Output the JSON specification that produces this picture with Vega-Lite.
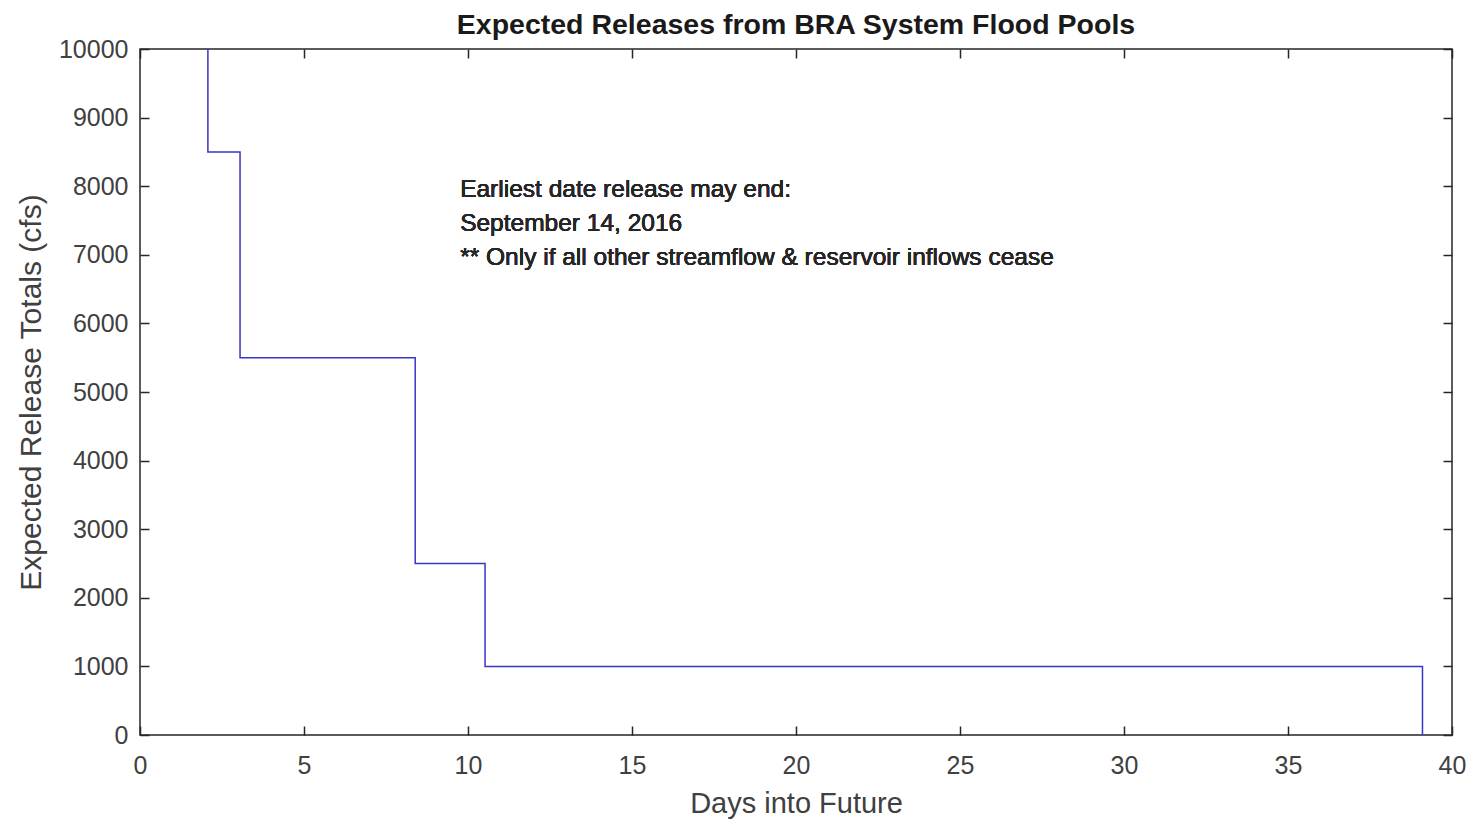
{
  "$schema": "https://vega.github.io/schema/vega-lite/v6.json",
  "width": 1312,
  "height": 686,
  "autosize": {"type": "none"},
  "padding": {"left": 140, "top": 49, "right": 17, "bottom": 87},
  "background": "white",
  "config": {
    "font": "Liberation Sans",
    "view": {"stroke": "#262626", "strokeWidth": 1.5},
    "axis": {
      "domain": false,
      "grid": false,
      "tickColor": "#262626",
      "tickWidth": 1.5,
      "labelColor": "#404040",
      "titleColor": "#404040",
      "labelFont": "Liberation Sans",
      "titleFont": "Liberation Sans",
      "titleFontWeight": "normal",
      "labelFlush": false
    }
  },
  "title": {
    "text": "Expected Releases from BRA System Flood Pools",
    "fontSize": 28.5,
    "fontWeight": "bold",
    "color": "#1a1a1a",
    "anchor": "middle",
    "offset": -2
  },
  "data": {
    "values": [
      {"day": 2.07, "release": 10000},
      {"day": 3.05, "release": 8500},
      {"day": 8.39, "release": 5500},
      {"day": 10.52, "release": 2500},
      {"day": 39.1, "release": 1000},
      {"day": 39.1, "release": 0}
    ]
  },
  "resolve": {"axis": {"x": "independent", "y": "independent"}},
  "layer": [
    {
      "mark": {"type": "line", "interpolate": "step-before", "color": "#3636c8", "strokeWidth": 1.5, "clip": true},
      "encoding": {
        "x": {
          "field": "day", "type": "quantitative",
          "scale": {"domain": [0, 40], "nice": false, "zero": false},
          "axis": {"orient": "bottom", "values": [0,5,10,15,20,25,30,35,40], "tickSize": -9, "labelPadding": 27, "labelFontSize": 25, "title": "Days into Future", "titleFontSize": 29, "titlePadding": 11}
        },
        "y": {
          "field": "release", "type": "quantitative",
          "scale": {"domain": [0, 10000], "nice": false},
          "axis": {"orient": "left", "format": "d", "values": [0,1000,2000,3000,4000,5000,6000,7000,8000,9000,10000], "tickSize": -9, "labelPadding": 21, "labelFontSize": 25, "title": "Expected Release Totals (cfs)", "titleFontSize": 30, "titlePadding": 12}
        }
      }
    },
    {
      "mark": {"type": "text", "align": "left", "baseline": "top", "fontSize": 24.5, "lineHeight": 34, "color": "#262626", "font": "Liberation Sans"},
      "encoding": {
        "x": {"datum": 9.76, "type": "quantitative", "axis": {"orient": "top", "values": [0,5,10,15,20,25,30,35,40], "tickSize": -9, "labels": false, "title": null}},
        "y": {"datum": 8120, "type": "quantitative", "axis": {"orient": "right", "values": [0,1000,2000,3000,4000,5000,6000,7000,8000,9000,10000], "tickSize": -9, "labels": false, "title": null}},
        "text": {"value": ["Earliest date release may end:", "September 14, 2016", "** Only if all other streamflow & reservoir inflows cease"]}
      }
    }
  ]
}
